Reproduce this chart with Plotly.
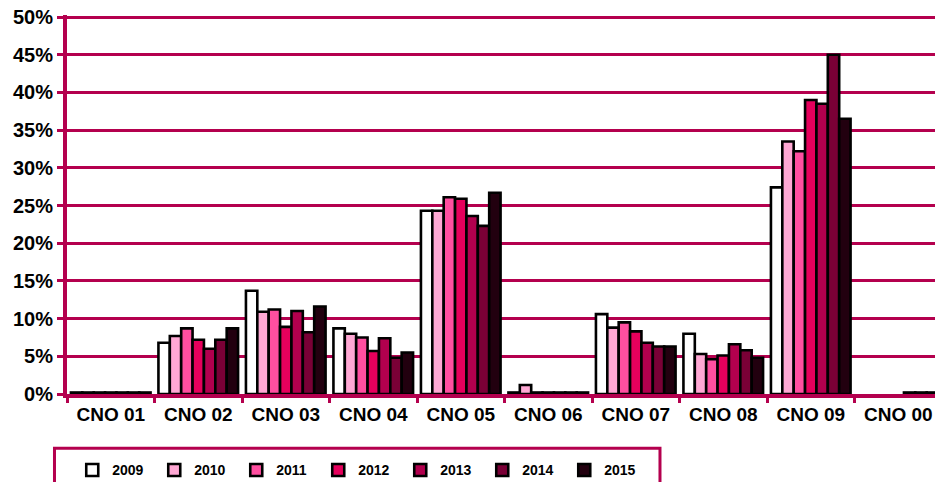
import plotly.graph_objects as go

# categories and values (percent)
categories = ["CNO 01", "CNO 02", "CNO 03", "CNO 04", "CNO 05",
              "CNO 06", "CNO 07", "CNO 08", "CNO 09", "CNO 00"]
years = ["2009", "2010", "2011", "2012", "2013", "2014", "2015"]

v2009 = [0.2, 6.8, 13.7, 8.7, 24.3, 0.2, 10.6, 8.0, 27.4, None]
v2010 = [0.2, 7.7, 10.9, 8.0, 24.3, 1.2, 8.8, 5.3, 33.5, None]
v2011 = [0.2, 8.7, 11.2, 7.5, 26.1, 0.2, 9.5, 4.6, 32.2, None]
v2012 = [0.2, 7.2, 8.9, 5.7, 25.9, 0.2, 8.3, 5.1, 39.0, None]
v2013 = [0.2, 6.0, 11.0, 7.4, 23.6, 0.2, 6.8, 6.6, 38.5, 0.2]
v2014 = [0.2, 7.2, 8.2, 4.8, 22.3, 0.2, 6.3, 5.8, 45.0, 0.2]
v2015 = [0.2, 8.7, 11.6, 5.5, 26.7, 0.2, 6.3, 4.8, 36.5, 0.2]

series = [v2009, v2010, v2011, v2012, v2013, v2014, v2015]
colors = ["#FFFFFF", "#FFA8D4", "#FF4FA0", "#E6005C", "#B2004E", "#7A0036", "#22000F"]

MAGENTA = "#B4004E"
FONT = "Arial, Liberation Sans, sans-serif"

fig = go.Figure()

for name, vals, col in zip(years, series, colors):
    fig.add_trace(go.Bar(
        x=categories,
        y=vals,
        name=name,
        marker=dict(color=col, line=dict(color="black", width=2.6)),
    ))

# the page body adds an 8px offset, so margins are shifted to compensate
fig.update_layout(
    width=943,
    height=482,
    margin=dict(l=59, r=9, t=7, b=96, autoexpand=False),
    paper_bgcolor="white",
    plot_bgcolor="white",
    barmode="group",
    bargap=0.09,
    bargroupgap=0,
    font=dict(family=FONT, color="black"),
    showlegend=True,
    legend=dict(
        orientation="h",
        x=0.006, xanchor="left",
        y=-0.2016, yanchor="middle",
        entrywidth=37,
        font=dict(size=14, weight="bold"),
        bgcolor="rgba(0,0,0,0)",
        traceorder="normal",
    ),
)

fig.update_xaxes(
    automargin=False,
    showline=True, linecolor=MAGENTA, linewidth=4,
    ticks="outside", tickson="boundaries", ticklen=5, tickwidth=3, tickcolor=MAGENTA,
    tickfont=dict(size=19, weight="bold"),
    ticklabeloverflow="allow",
    showgrid=False,
)

# a little headroom above 50% so the top grid line is still drawn
fig.update_yaxes(
    automargin=False,
    range=[0, 50.27], tick0=0, dtick=5, ticksuffix="%",
    showline=True, linecolor=MAGENTA, linewidth=4,
    ticks="outside", ticklen=6, tickwidth=3, tickcolor=MAGENTA,
    tickfont=dict(size=20, weight="bold"),
    ticklabeloverflow="allow",
    showgrid=True, gridcolor=MAGENTA, gridwidth=3,
    zeroline=False,
)

# frame around the legend, partly cut off at the bottom as in the source
fig.add_shape(
    type="rect", xref="paper", yref="paper",
    x0=-0.0143, x1=0.6777, y0=-0.27, y1=-0.1432,
    line=dict(color=MAGENTA, width=3),
    fillcolor="rgba(0,0,0,0)",
)

fig.write_html("out.html")
